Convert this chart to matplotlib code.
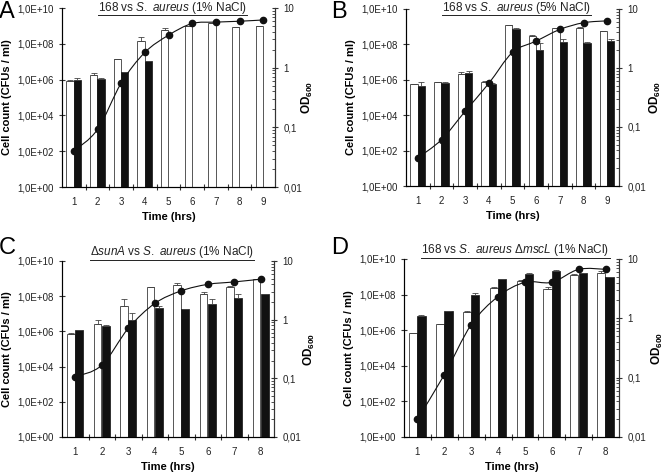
import numpy as np
import matplotlib
matplotlib.use("Agg")
import matplotlib.pyplot as plt
from matplotlib.path import Path
from matplotlib.patches import PathPatch
from matplotlib.lines import Line2D
from matplotlib.ticker import FixedLocator, NullFormatter, LogLocator

plt.rcParams['font.family'] = ['Liberation Sans', 'DejaVu Sans']
plt.rcParams['mathtext.fontset'] = 'custom'
plt.rcParams['mathtext.rm'] = 'Liberation Sans'
plt.rcParams['mathtext.it'] = 'Liberation Sans:italic'
plt.rcParams['mathtext.bf'] = 'Liberation Sans:bold'

nan = np.nan

# panel A: 168 vs S. aureus (1% NaCl)
a_white = [8.5e5, 1.7e6, 1.4e7, 1.5e8, 6e8, 1e9, 1.4e9, 8.5e8, 1e9]
a_white_top = [9.5e5, 2.2e6, 1.4e7, 2.3e8, 7.5e8, 1.05e9, 1.5e9, 8.5e8, 1.05e9]
a_black = [1.0e6, 1.1e6, 2.5e6, 1.1e7, nan, nan, nan, nan, nan]
a_black_top = [1.2e6, 1.3e6, 2.5e6, 1.1e7, nan, nan, nan, nan, nan]
a_od = [0.040, 0.092, 0.55, 1.8, 3.5, 5.5, 5.8, 6.0, 6.3]

# panel B: 168 vs S. aureus (5% NaCl)
b_white = [5.5e5, 7.4e5, 2.1e6, 8e5, 1.2e9, 3e8, 8.8e8, 9e8, 5.7e8]
b_white_top = [5.5e5, 7.6e5, 2.8e6, 8.3e5, 1.3e9, 3.2e8, 9e8, 9.5e8, 6e8]
b_black = [4.6e5, 6.8e5, 2.5e6, 5.9e5, 7.7e8, 5e7, 1.4e8, 1.2e8, 1.5e8]
b_black_top = [7.5e5, 7.5e5, 3.1e6, 6.2e5, 8e8, 1.2e8, 2.1e8, 1.4e8, 1.9e8]
b_od = [0.030, 0.061, 0.185, 0.55, 1.84, 2.86, 4.5, 5.85, 6.3]

# panel C: dsunA vs S. aureus (1% NaCl)
c_white = [6.7e5, 2.7e6, 2.9e7, 3.5e8, 4.3e8, 1.4e8, 3.5e8, 9.5e8]
c_white_top = [8e5, 4.2e6, 6.5e7, 3.5e8, 5.3e8, 1.8e8, 3.6e8, 1.0e9]
c_black = [1.2e6, 2e6, 4.2e6, 2.2e7, 1.9e7, 3.7e7, 8e7, 1.3e8]
c_black_top = [1.25e6, 2.3e6, 1.1e7, 2.7e7, 1.9e7, 6.5e7, 1.4e8, 1.3e8]
c_od = [0.106, 0.167, 0.71, 1.89, 3.1, 4.0, 4.4, 4.9]

# panel D: 168 vs S. aureus dmscL (1% NaCl)
d_white = [6.8e5, 2.2e6, 1.0e7, 2.5e8, 6.1e8, 2.1e8, 1.2e9, 1.7e9]
d_white_top = [6.8e5, 2.3e6, 1.2e7, 2.7e8, 6.8e8, 2.8e8, 1.4e9, 2e9]
d_black = [6.6e6, 1.2e7, 9.6e7, 7.6e8, 1.4e9, 2e9, 1.6e9, 1e9]
d_black_top = [7.5e6, 1.25e7, 1.3e8, 7.6e8, 1.7e9, 2.3e9, 1.6e9, 1e9]
d_od = [0.020, 0.112, 0.78, 2.33, 4.05, 4.05, 6.7, 6.7]

left_ticks = [1e0, 1e2, 1e4, 1e6, 1e8, 1e10]
left_labels = ['1,0E+00', '1,0E+02', '1,0E+04', '1,0E+06', '1,0E+08', '1,0E+10']
right_ticks = [0.01, 0.1, 1, 10]
right_labels = ['0,01', '0,1', '1', '10']

panels = [
    ('A', r'168 vs $\mathit{S.\ aureus}$ (1% NaCl)', a_white, a_white_top, a_black, a_black_top, a_od,
     [62, 8, 275, 187], 7.5, 25),
    ('B', r'168 vs $\mathit{S.\ aureus}$ (5% NaCl)', b_white, b_white_top, b_black, b_black_top, b_od,
     [406, 9, 619, 186], 7.5, 29),
    ('C', r'Δ$\mathit{sunA}$ vs $\mathit{S.\ aureus}$ (1% NaCl)', c_white, c_white_top, c_black, c_black_top, c_od,
     [62, 261, 274, 437], 252, 28),
    ('D', r'168 vs $\mathit{S.\ aureus}$ Δ$\mathit{mscL}$ (1% NaCl)', d_white, d_white_top, d_black, d_black_top, d_od,
     [404, 259, 619, 437], 250, 31),
]

W, H = 664, 475
fig = plt.figure(figsize=(W / 100, H / 100), dpi=100)
spine_col = '#333333'


def smooth_curve(x, y):
    # Catmull-Rom style bezier in (x, log y) space, like Excel's smoothed line
    px = np.asarray(x, float)
    py = np.log10(np.asarray(y, float))
    n = len(px)
    verts = [(px[0], py[0])]
    codes = [Path.MOVETO]
    for i in range(n - 1):
        i0 = max(i - 1, 0)
        i3 = min(i + 2, n - 1)
        c1 = (px[i] + (px[i + 1] - px[i0]) / 6, py[i] + (py[i + 1] - py[i0]) / 6)
        c2 = (px[i + 1] - (px[i3] - px[i]) / 6, py[i + 1] - (py[i3] - py[i]) / 6)
        verts += [c1, c2, (px[i + 1], py[i + 1])]
        codes += [Path.CURVE4] * 3
    verts = [(vx, 10 ** vy) for vx, vy in verts]
    return Path(verts, codes)


titles = []
for letter, title, white, white_top, black, black_top, od, box, ty, odx in panels:
    x0, y0, x1, y1 = box
    ax = fig.add_axes([x0 / W, 1 - y1 / H, (x1 - x0) / W, (y1 - y0) / H])
    hours = np.arange(1, len(white) + 1)
    white = np.array(white)
    black = np.array(black)

    ax.bar(hours - 0.16, white, width=0.3, color='white', edgecolor='#555555', linewidth=0.7, zorder=2)
    ax.bar(hours + 0.15, black, width=0.31, color='#111111', edgecolor='#111111', linewidth=0.5, zorder=2)
    ax.errorbar(hours - 0.16, white, yerr=[np.zeros(len(white)), np.array(white_top) - white],
                fmt='none', ecolor='#444444', elinewidth=0.6, capsize=2, capthick=0.6, zorder=3)
    ax.errorbar(hours + 0.15, black, yerr=[np.zeros(len(black)), np.array(black_top) - black],
                fmt='none', ecolor='#444444', elinewidth=0.6, capsize=2, capthick=0.6, zorder=3)

    ax.set_yscale('log')
    ax.set_ylim(1, 1e10)
    ax.set_xlim(0.5, len(white) + 0.5)
    ax.yaxis.set_major_locator(FixedLocator(left_ticks))
    ax.set_yticklabels(left_labels)
    ax.yaxis.set_minor_locator(FixedLocator([]))
    ax.set_xticks(hours)
    ax.set_xticks(np.arange(1.5, len(white), 1.0), minor=True)
    ax.tick_params(axis='x', which='major', length=0, labelsize=7, pad=7, colors='#222222')
    ax.tick_params(axis='x', which='minor', length=5, direction='inout', color=spine_col, width=0.8)
    ax.tick_params(axis='y', which='major', length=5, direction='inout', labelsize=7, color=spine_col,
                   width=0.8, labelcolor='#222222')
    ax.spines['top'].set_visible(False)
    for s in ['left', 'bottom', 'right']:
        ax.spines[s].set_color(spine_col)
        ax.spines[s].set_linewidth(0.8)
    ax.set_xlabel('Time (hrs)', fontsize=8, fontweight='bold', labelpad=4)
    ax.set_ylabel('Cell count (CFUs / ml)', fontsize=8, fontweight='bold')
    ax.yaxis.set_label_coords(-50 / (x1 - x0), 0.5)

    ax2 = ax.twinx()
    ax2.set_yscale('log')
    ax2.set_ylim(0.01, 10)
    ax2.yaxis.set_major_locator(FixedLocator(right_ticks))
    ax2.set_yticklabels(right_labels)
    ax2.yaxis.set_minor_locator(LogLocator(base=10, subs=np.arange(2, 10)))
    ax2.yaxis.set_minor_formatter(NullFormatter())
    ax2.tick_params(axis='y', which='major', length=5, direction='inout', labelsize=7, color=spine_col,
                    width=0.8, labelcolor='#222222')
    ax2.tick_params(axis='y', which='minor', length=2.5, direction='in', color=spine_col, width=0.6)
    ax2.spines['top'].set_visible(False)
    ax2.spines['right'].set_color(spine_col)
    ax2.spines['right'].set_linewidth(0.8)
    ax2.add_patch(PathPatch(smooth_curve(hours, od), fill=False, edgecolor='#111111', linewidth=0.8, zorder=4))
    ax2.plot(hours, od, 'o', color='#111111', markersize=4.5, zorder=5)
    ax2.set_ylabel(r'$\mathbf{OD_{600}}$', fontsize=8.5)
    ax2.yaxis.set_label_coords(1 + odx / (x1 - x0), 0.5)

    cx = (x0 + x1) / 2 / W
    t = fig.text(cx + 4 / W, 1 - ty / H, title, fontsize=8.5, ha='center', va='center', color='#222222')
    titles.append(t)
    lx = 0 if x0 < 300 else 332
    ly = 0 if y0 < 200 else 236
    fig.text((lx - 1) / W, 1 - (ly + 1) / H, letter, fontsize=17, ha='left', va='top')

# underline titles
fig.canvas.draw()
inv = fig.transFigure.inverted()
for t in titles:
    bb = t.get_window_extent()
    p0 = inv.transform((bb.x0, bb.y0 + 0.5))
    p1 = inv.transform((bb.x1, bb.y0 + 0.5))
    fig.add_artist(Line2D([p0[0], p1[0]], [p0[1], p1[1]], transform=fig.transFigure, color='#222222',
                          linewidth=0.7))

fig.savefig('out.png', dpi=100)
